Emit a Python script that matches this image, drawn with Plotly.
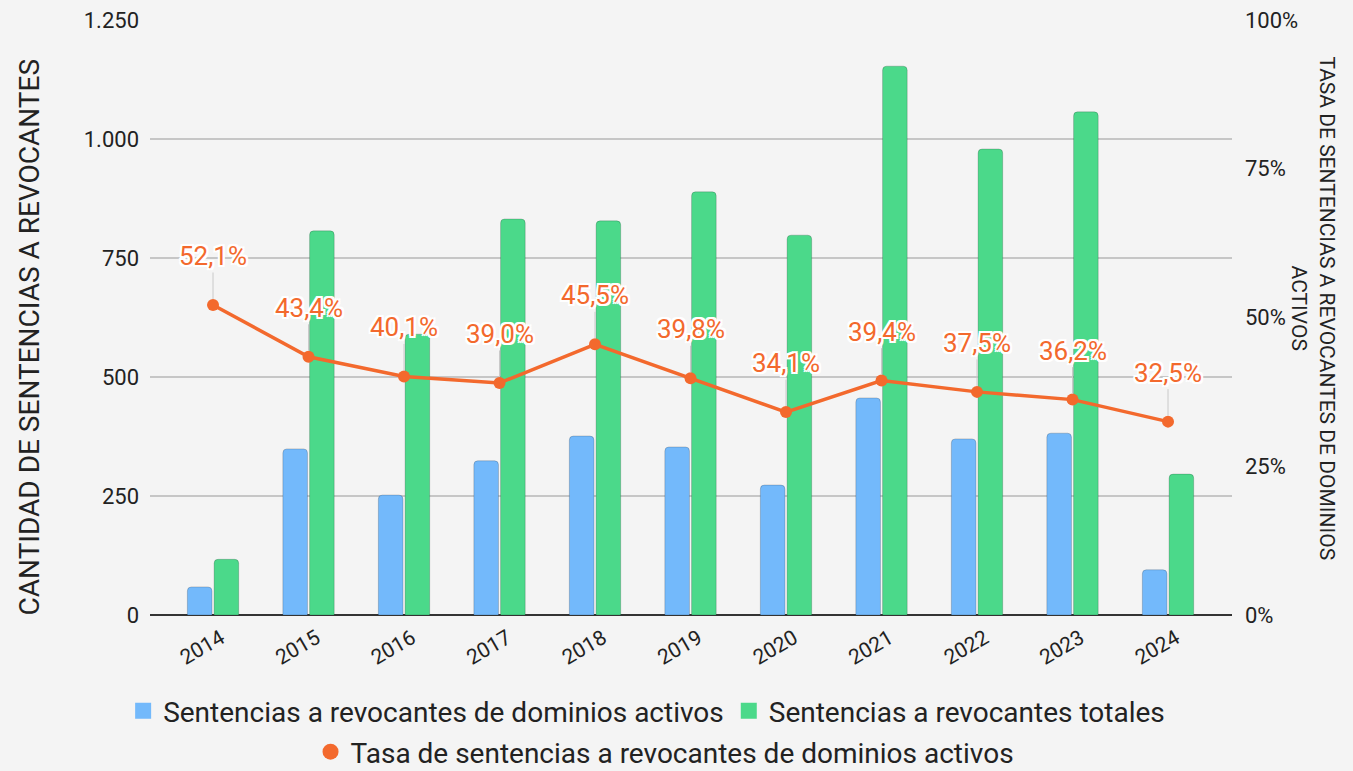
import plotly.graph_objects as go

# data
years = [str(y) for y in range(2014, 2025)]
activos = [59, 349, 252, 324, 376, 353, 273, 456, 370, 382, 95]
totales = [117, 807, 590, 832, 828, 889, 798, 1153, 979, 1057, 296]
tasa = [0.521, 0.434, 0.401, 0.390, 0.455, 0.398, 0.341, 0.394, 0.375, 0.362, 0.325]

name_activos = "Sentencias a revocantes de dominios activos"
name_totales = "Sentencias a revocantes totales"
name_tasa = "Tasa de sentencias a revocantes de dominios activos"

BLUE = "#73b9fb"
GREEN = "#4bd98a"
ORANGE = "#f3692d"
BG = "#f4f4f4"
FONT = "Roboto"

fig = go.Figure()

fig.add_trace(
    go.Bar(
        x=years,
        y=activos,
        name=name_activos,
        marker=dict(color=BLUE, line=dict(color="rgba(0,0,0,0.18)", width=1)),
        showlegend=False,
    )
)
fig.add_trace(
    go.Bar(
        x=years,
        y=totales,
        name=name_totales,
        marker=dict(color=GREEN, line=dict(color="rgba(0,0,0,0.18)", width=1)),
        showlegend=False,
    )
)
fig.add_trace(
    go.Scatter(
        x=years,
        y=tasa,
        name=name_tasa,
        mode="lines+markers",
        line=dict(color=ORANGE, width=3.5),
        marker=dict(color=ORANGE, size=12),
        yaxis="y2",
        showlegend=False,
    )
)

# legend-only entries (square / circle symbols, no line)
fig.add_trace(
    go.Scatter(x=[None], y=[None], mode="markers", name=name_activos,
               marker=dict(symbol="square", color=BLUE, size=26), legend="legend")
)
fig.add_trace(
    go.Scatter(x=[None], y=[None], mode="markers", name=name_totales,
               marker=dict(symbol="square", color=GREEN, size=26), legend="legend")
)
fig.add_trace(
    go.Scatter(x=[None], y=[None], mode="markers", name=name_tasa,
               marker=dict(symbol="circle", color=ORANGE, size=26), legend="legend2",
               yaxis="y2")
)

halo = ", ".join(
    f"{dx}px {dy}px 0 #fff"
    for dx, dy in [(2, 0), (-2, 0), (0, 2), (0, -2), (2, 2), (-2, -2), (2, -2), (-2, 2)]
)

annotations = []
for i, v in enumerate(tasa):
    annotations.append(
        dict(
            x=i,
            y=v,
            xref="x",
            yref="y2",
            text=f"{v * 100:.1f}%".replace(".", ","),
            showarrow=True,
            arrowhead=0,
            arrowwidth=1,
            arrowcolor="#c9c9c9",
            ax=0,
            ay=-49,
            standoff=6,
            font=dict(family=FONT, size=26, color=ORANGE, shadow=halo),
        )
    )

annotations.append(
    dict(
        text="CANTIDAD DE SENTENCIAS A REVOCANTES",
        xref="paper", yref="paper",
        x=-0.111, y=0.468,
        xanchor="center", yanchor="middle",
        textangle=-90, showarrow=False,
        font=dict(family=FONT, size=28, color="#222222"),
    )
)
annotations.append(
    dict(
        text="TASA DE SENTENCIAS A REVOCANTES DE DOMINIOS<br>ACTIVOS",
        xref="paper", yref="paper",
        x=1.075, y=0.515,
        xanchor="center", yanchor="middle",
        textangle=90, showarrow=False,
        font=dict(family=FONT, size=21, color="#222222"),
    )
)

fig.update_layout(
    width=1353,
    height=771,
    margin=dict(l=150, r=121, t=20, b=156),
    paper_bgcolor=BG,
    plot_bgcolor=BG,
    font=dict(family=FONT, size=22, color="#222222"),
    separators=",.",
    barmode="group",
    bargap=0.44,
    bargroupgap=0.08,
    barcornerradius=4,
    annotations=annotations,
    xaxis=dict(
        type="category",
        range=[-0.66, 10.67],
        tickangle=-30,
        tickfont=dict(size=21),
        showgrid=False,
        ticks="",
        ticklabelshift=8,
        ticklabelstandoff=6,
        automargin=False,
    ),
    yaxis=dict(
        range=[0, 1250],
        dtick=250,
        tickformat=",d",
        gridcolor="#c6c6c6",
        gridwidth=2,
        zeroline=True,
        zerolinecolor="#333333",
        zerolinewidth=2,
        ticklabelstandoff=10,
        automargin=False,
    ),
    yaxis2=dict(
        overlaying="y",
        side="right",
        range=[0, 1],
        dtick=0.25,
        tickformat=".0%",
        showgrid=False,
        zeroline=False,
        ticklabelstandoff=12,
        automargin=False,
    ),
    legend=dict(
        orientation="h",
        x=0.459, xanchor="center",
        yref="container",
        y=1 - 711 / 771, yanchor="middle",
        font=dict(size=28, color="#222222"),
        bgcolor="rgba(0,0,0,0)",
    ),
    legend2=dict(
        orientation="h",
        x=0.476, xanchor="center",
        yref="container",
        y=1 - 752 / 771, yanchor="middle",
        font=dict(size=28, color="#222222"),
        bgcolor="rgba(0,0,0,0)",
    ),
)

fig.write_html(
    "out.html",
    config={"displayModeBar": False},
    post_script="document.body.style.margin='0';document.body.style.overflow='hidden';",
)
